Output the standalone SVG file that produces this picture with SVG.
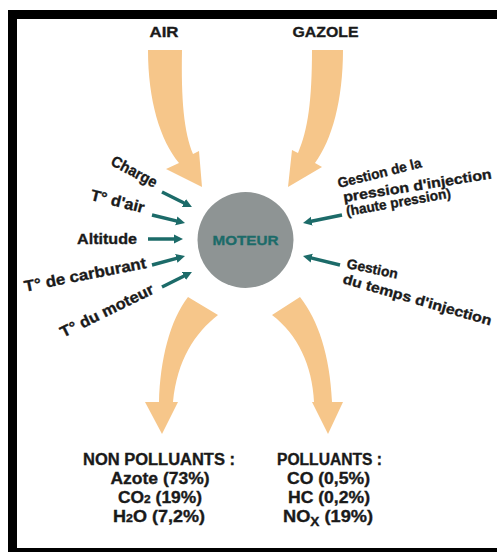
<svg xmlns="http://www.w3.org/2000/svg" width="497" height="552" viewBox="0 0 497 552">
<style>
.t{font-family:"Liberation Sans",Arial,sans-serif;font-weight:bold;fill:#1a1a1a;stroke:#1a1a1a;stroke-width:0.35}
.flow{fill:#f6c68a}
.ctl{stroke:#1c6b69;stroke-width:3.5;fill:none;marker-end:url(#ah)}
</style>
<defs>
<marker id="ah" markerUnits="userSpaceOnUse" markerWidth="12" markerHeight="12" viewBox="0 -6 12 12" refX="3" refY="0" orient="auto">
<path d="M0,-4.5 L9,0 L0,4.5 Z" fill="#1c6b69"/>
</marker>
</defs>
<rect width="497" height="552" fill="#fff"/>
<g id="frame" fill="#000">
<rect x="8" y="10" width="489" height="9"/>
<rect x="8" y="10" width="9" height="542"/>
<rect x="8" y="548" width="489" height="4"/>
</g>
<g id="connectors">
<path id="air-flow" class="flow" d="M148,50 L182,50 C181,100 184,132 193,154 L199,151 L202,187 L166,169 L179,163 C160,140 148,100 148,50 Z"/>
<path id="gazole-flow" class="flow" d="M312,50 L343,50 C343,100 332,140 315,163 L322,167 L288,187 L292,150 L298,153 C308,130 312,100 312,50 Z"/>
<path id="out-left" class="flow" d="M188,297 L218,315 C195,333 177,360 173,402 L178,402 L162,434 L145,402 L159,402 C160,360 170,320 188,297 Z"/>
<path id="out-right" class="flow" d="M272,315 L300,297 C318,320 330,355 332,402 L343,402 L328,434 L312,402 L314,402 C312,365 298,335 272,315 Z"/>
<line class="ctl" x1="162" y1="192" x2="186.6" y2="204.3"/>
<line class="ctl" x1="152" y1="215" x2="179.2" y2="221.6"/>
<line class="ctl" x1="148" y1="239" x2="177" y2="239"/>
<line class="ctl" x1="152" y1="265" x2="179.2" y2="257.6"/>
<line class="ctl" x1="162" y1="287" x2="186.6" y2="274.7"/>
<line class="ctl" x1="342" y1="215" x2="308.9" y2="221.8"/>
<line class="ctl" x1="340" y1="265" x2="308.8" y2="257.4"/>
</g>
<g id="moteur">
<circle cx="245.5" cy="240" r="48" fill="#8e9494"/>
<text x="245.5" y="245" text-anchor="middle" font-size="13.5" textLength="66" lengthAdjust="spacingAndGlyphs" class="t" style="fill:#1c6b69;stroke:#1c6b69">MOTEUR</text>
</g>
<g id="air"><text class="t" x="164" y="37" text-anchor="middle" font-size="15.5" textLength="29" lengthAdjust="spacingAndGlyphs">AIR</text></g>
<g id="gazole"><text class="t" x="325.5" y="37" text-anchor="middle" font-size="15.5" textLength="66" lengthAdjust="spacingAndGlyphs">GAZOLE</text></g>
<g id="inputs-left" class="t" font-size="15.5" text-anchor="end">
<text transform="translate(154,188) rotate(28)" textLength="50" lengthAdjust="spacingAndGlyphs">Charge</text>
<text transform="translate(143,213) rotate(14)" textLength="55" lengthAdjust="spacingAndGlyphs">T° d'air</text>
<text transform="translate(137,244)" textLength="60" lengthAdjust="spacingAndGlyphs">Altitude</text>
<text transform="translate(147,268) rotate(-11)" textLength="124" lengthAdjust="spacingAndGlyphs">T° de carburant</text>
<text transform="translate(155,293) rotate(-26)" textLength="102" lengthAdjust="spacingAndGlyphs">T° du moteur</text>
</g>
<g id="inputs-right" class="t" font-size="14">
<text transform="translate(339,188) rotate(-14)" textLength="86" lengthAdjust="spacingAndGlyphs">Gestion de la</text>
<text transform="translate(344,202) rotate(-9)" textLength="150" lengthAdjust="spacingAndGlyphs">pression d'injection</text>
<text transform="translate(347,216) rotate(-10)" textLength="106" lengthAdjust="spacingAndGlyphs">(haute pression)</text>
<text transform="translate(346,268) rotate(12)" textLength="52" lengthAdjust="spacingAndGlyphs">Gestion</text>
<text transform="translate(342,283) rotate(16)" textLength="154" lengthAdjust="spacingAndGlyphs">du temps d'injection</text>
</g>
<g id="non-polluants" class="t" font-size="16" text-anchor="middle">
<text x="159" y="465" textLength="152" lengthAdjust="spacingAndGlyphs">NON POLLUANTS :</text>
<text x="160" y="484" textLength="99" lengthAdjust="spacingAndGlyphs">Azote (73%)</text>
<text x="160" y="503" textLength="84" lengthAdjust="spacingAndGlyphs">CO<tspan font-size="11">2</tspan> (19%)</text>
<text x="159" y="522" textLength="92" lengthAdjust="spacingAndGlyphs">H<tspan font-size="11">2</tspan>O (7,2%)</text>
</g>
<g id="polluants" class="t" font-size="16" text-anchor="middle">
<text x="329.5" y="465" textLength="105" lengthAdjust="spacingAndGlyphs">POLLUANTS :</text>
<text x="328.5" y="484" textLength="83" lengthAdjust="spacingAndGlyphs">CO (0,5%)</text>
<text x="329" y="503" textLength="82" lengthAdjust="spacingAndGlyphs">HC (0,2%)</text>
<text x="328" y="522" textLength="90" lengthAdjust="spacingAndGlyphs">NO<tspan font-size="12" dy="4">X</tspan><tspan dy="-4"> (19%)</tspan></text>
</g>
</svg>
